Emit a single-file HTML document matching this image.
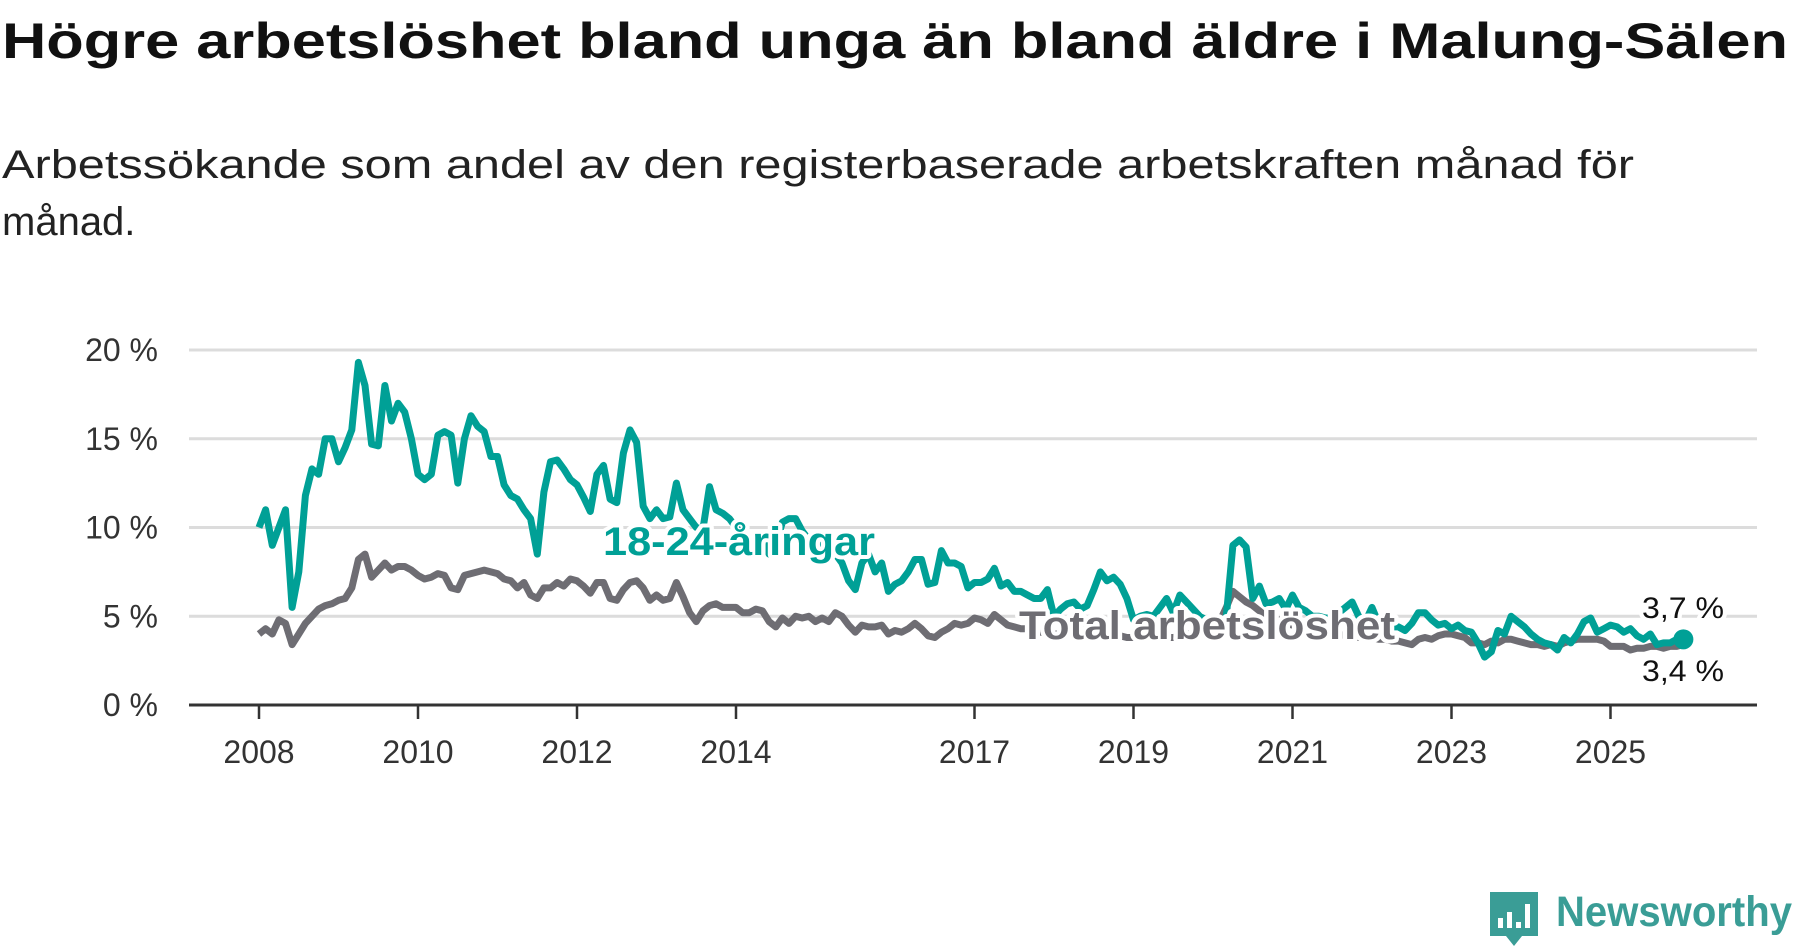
<!DOCTYPE html>
<html><head><meta charset="utf-8"><style>
html,body{margin:0;padding:0;background:#fff;}
svg{display:block;font-family:"Liberation Sans",sans-serif;}
</style></head><body>
<svg id="chart" width="1800" height="948" viewBox="0 0 1800 948" xmlns="http://www.w3.org/2000/svg">
<text x="2" y="58" font-size="50" font-weight="bold" fill="#111" textLength="1786" lengthAdjust="spacingAndGlyphs">Högre arbetslöshet bland unga än bland äldre i Malung-Sälen</text>
<text x="2" y="178" font-size="40" fill="#222" textLength="1632" lengthAdjust="spacingAndGlyphs">Arbetssökande som andel av den registerbaserade arbetskraften månad för</text>
<text x="2" y="235" font-size="40" fill="#222">månad.</text>
<g id="grid"></g>
<g id="axes"></g>
<g id="lines"></g>
<g id="labels"></g>
<g>
<path d="M1490 892 h48 v44 h-16 l-8 10 l-8 -10 h-16 z" fill="#3a9d96"/>
<rect x="1498" y="918" width="5" height="10" fill="#fff"/>
<rect x="1507" y="912" width="5" height="16" fill="#fff"/>
<rect x="1516" y="922" width="5" height="6" fill="#fff"/>
<rect x="1525" y="904" width="5" height="24" fill="#fff"/>
<text x="1556" y="926" font-size="43" font-weight="bold" fill="#3a9d96" textLength="236" lengthAdjust="spacingAndGlyphs">Newsworthy</text>
</g>
</svg>
<script>
const yTicks = [0, 5, 10, 15, 20];
const yTickLabels = ["0 %", "5 %", "10 %", "15 %", "20 %"];
const xTickYears = [2008, 2010, 2012, 2014, 2017, 2019, 2021, 2023, 2025];
const startYear = 2008;
const youth = [
10,11,9,10,11,5.5,7.5,11.8,13.3,13,15,15,
13.7,14.5,15.5,19.3,18,14.7,14.6,18,16,17,16.5,15,
13,12.7,13,15.2,15.4,15.2,12.5,15,16.3,15.7,15.4,14,
14,12.4,11.8,11.6,11,10.5,8.5,12,13.7,13.8,13.3,12.7,
12.4,11.7,10.9,13,13.5,11.6,11.4,14.2,15.5,14.8,11.2,10.5,
11,10.5,10.6,12.5,11,10.5,10,9.9,12.3,11,10.8,10.5,
10,9.6,9.2,8.8,9.5,8.5,9,10.3,10.5,10.5,9.8,9.3,
9.3,9,8.8,8.5,8,7,6.5,8,8.5,7.5,8,6.4,
6.8,7,7.5,8.2,8.2,6.8,6.9,8.7,8,8,7.8,6.6,
6.9,6.9,7.1,7.7,6.7,6.9,6.4,6.4,6.2,6,6,6.5,
5,5.4,5.7,5.8,5.4,5.6,6.5,7.5,7,7.2,6.8,6,
4.8,5,5.1,5,5.5,6,5.2,6.2,5.8,5.4,5,4.8,
4.6,4.5,5,9,9.3,8.9,6,6.7,5.7,5.8,6,5.4,
6.2,5.5,5.3,5,5,4.9,4.9,5.2,5.5,5.8,5,4.7,
5.5,4.6,4.5,4.4,4.4,4.2,4.6,5.2,5.2,4.8,4.5,4.6,
4.3,4.5,4.2,4.1,3.5,2.7,3,4.2,4,5,4.7,4.4,
4,3.7,3.5,3.4,3.1,3.8,3.5,4,4.7,4.9,4.1,4.3,
4.5,4.4,4.1,4.3,3.9,3.7,4,3.4,3.5,3.5,3.7,3.7];
const total = [
4,4.3,4,4.8,4.6,3.4,4,4.6,5,5.4,5.6,5.7,
5.9,6,6.6,8.2,8.5,7.2,7.6,8,7.6,7.8,7.8,7.6,
7.3,7.1,7.2,7.4,7.3,6.6,6.5,7.3,7.4,7.5,7.6,7.5,
7.4,7.1,7,6.6,6.9,6.2,6,6.6,6.6,6.9,6.7,7.1,
7,6.7,6.3,6.9,6.9,6,5.9,6.5,6.9,7,6.6,5.9,
6.2,5.9,6,6.9,6.1,5.2,4.7,5.3,5.6,5.7,5.5,5.5,
5.5,5.2,5.2,5.4,5.3,4.7,4.4,4.9,4.6,5,4.9,5,
4.7,4.9,4.7,5.2,5,4.5,4.1,4.5,4.4,4.4,4.5,4,
4.2,4.1,4.3,4.6,4.3,3.9,3.8,4.1,4.3,4.6,4.5,4.6,
4.9,4.8,4.6,5.1,4.8,4.5,4.4,4.3,4.3,4.2,4.1,4.1,
4,4,4.1,4.2,4.3,4.2,4.1,4,4,3.9,3.9,3.8,
3.8,3.9,4,4,3.9,3.8,3.8,3.9,4,4,4.1,4.5,
4.6,4.7,5.5,6.4,6.1,5.8,5.6,5.3,5,4.9,4.8,4.6,
4.5,4.4,4.3,4.2,4.2,4.1,4,4,3.9,3.9,3.8,3.8,
3.8,3.7,3.7,3.6,3.6,3.5,3.4,3.7,3.8,3.7,3.9,4,
4,3.9,3.8,3.5,3.5,3.4,3.6,3.5,3.7,3.7,3.6,3.5,
3.4,3.4,3.3,3.4,3.3,3.5,3.6,3.7,3.7,3.7,3.7,3.6,
3.3,3.3,3.3,3.1,3.2,3.2,3.3,3.3,3.2,3.3,3.3,3.4];
const lastYouthLabel = "3,7 %";
const lastTotalLabel = "3,4 %";

const NS = "http://www.w3.org/2000/svg";
const X0 = 259, PX_PER_YEAR = 79.5, Y0 = 705, PX_PER_PCT = 17.75;
const xYear = y => X0 + (y - startYear) * PX_PER_YEAR;
const xIdx = i => xYear(startYear + i / 12);
const yVal = v => Y0 - v * PX_PER_PCT;
function mk(tag, attrs, parent) {
  const e = document.createElementNS(NS, tag);
  for (const k in attrs) e.setAttribute(k, attrs[k]);
  parent.appendChild(e);
  return e;
}
const grid = document.getElementById('grid');
const axes = document.getElementById('axes');
const lines = document.getElementById('lines');
const labels = document.getElementById('labels');

yTicks.forEach((t, i) => {
  if (t !== 0) {
    const l = mk('line', {x1: 189, x2: 1757, y1: yVal(t), y2: yVal(t), stroke: '#dcdcdc', 'stroke-width': 3}, grid);
    
    
  }
  const tx = mk('text', {x: 158, y: yVal(t) + 11, 'text-anchor': 'end', 'font-size': 32, fill: '#333'}, axes);
  tx.textContent = yTickLabels[i];
  
  
});
const ax = mk('line', {x1: 189, x2: 1757, y1: Y0, y2: Y0, stroke: '#333', 'stroke-width': 3}, axes);


xTickYears.forEach(yr => {
  const x = xYear(yr);
  const tk = mk('line', {x1: x, x2: x, y1: Y0, y2: Y0 + 14, stroke: '#333', 'stroke-width': 2.5}, axes);
  
  
  const tx = mk('text', {x: x, y: 763, 'text-anchor': 'middle', 'font-size': 32, fill: '#333'}, axes);
  tx.textContent = yr;
  
  
});
function pathFor(arr) { return arr.map((v, i) => (i ? 'L' : 'M') + xIdx(i).toFixed(1) + ' ' + yVal(v).toFixed(1)).join(' '); }
const pt = mk('path', {d: pathFor(total), fill: 'none', stroke: '#6e6d73', 'stroke-width': 7, 'stroke-linejoin': 'round'}, lines);


const py = mk('path', {d: pathFor(youth), fill: 'none', stroke: '#00a096', 'stroke-width': 7, 'stroke-linejoin': 'round'}, lines);


const li = youth.length - 1;
const dot = mk('circle', {cx: xIdx(li), cy: yVal(youth[li]), r: 10, fill: '#00a096'}, lines);



function lbl(txt, x, y, color, size, bold, name, len) {
  const t = mk('text', {x: x, y: y, 'font-size': size, fill: color, 'font-weight': bold ? 'bold' : 'normal', stroke: '#fff', 'stroke-width': 8, 'paint-order': 'stroke', 'stroke-linejoin': 'round'}, labels);
  if (len) { t.setAttribute('textLength', len); t.setAttribute('lengthAdjust', 'spacingAndGlyphs'); }
  t.textContent = txt;
  
  
  return t;
}
lbl('18-24-åringar', 603, 555, '#00a096', 40, true, 'youth-series-label', 272);
lbl('Total arbetslöshet', 1019, 639, '#6e6d73', 40, true, 'total-series-label', 376);
lbl(lastYouthLabel, 1642, 618, '#111', 30, false, 'youth-last-value', 82);
lbl(lastTotalLabel, 1642, 681, '#111', 30, false, 'total-last-value', 82);
</script>
</body></html>
